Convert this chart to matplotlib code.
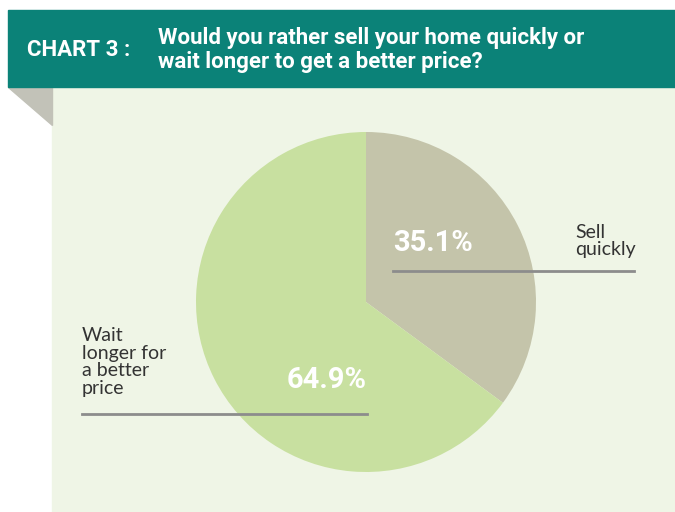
import matplotlib
matplotlib.use("Agg")
import matplotlib.pyplot as plt
from matplotlib.patches import Rectangle, Polygon

# data
labels = ["Sell\nquickly", "Wait\nlonger for\na better\nprice"]
values = [35.1, 64.9]
pct_labels = ["35.1%", "64.9%"]
colors = ["#c4c4aa", "#c8e0a0"]
chart_tag = "CHART 3 :"
question = "Would you rather sell your home quickly or\nwait longer to get a better price?"

W, H = 675, 512
fig = plt.figure(figsize=(W / 100, H / 100), dpi=100)
ax = fig.add_axes([0, 0, 1, 1])

def py(y):
    # pixel y (top-down) -> data y
    return H - y

# background panels
ax.add_patch(Rectangle((52, 0), W - 52, py(87), color="#eff5e6", zorder=0))
ax.add_patch(Polygon([(8, py(87)), (52, py(87)), (52, py(125))], color="#c2c2b8", zorder=0))
ax.add_patch(Rectangle((8, py(87)), W - 8, 77, color="#0b8278", zorder=1))

bold = ["Roboto", "DejaVu Sans"]
ax.text(27, py(50), chart_tag, color="white", fontsize=16, fontweight="bold",
        family=bold, va="center", ha="left")
ax.text(158, py(50), question, color="white", fontsize=16, fontweight="bold",
        family=bold, va="center", ha="left", linespacing=1.15)

# pie
ax.pie(values, colors=colors, startangle=90, counterclock=False,
       center=(366, py(302)), radius=170, frame=True,
       wedgeprops=dict(linewidth=0))
ax.set_xlim(0, W)
ax.set_ylim(0, H)
ax.set_aspect("equal")
ax.axis("off")

# leader lines
line_col = "#8c8c8c"
ax.plot([393, 634], [py(271), py(271)], color=line_col, lw=2, zorder=5)
ax.plot([82, 367], [py(414), py(414)], color=line_col, lw=2, zorder=5)

# percentages
ax.text(393, py(243), pct_labels[0], color="white", fontsize=21, fontweight="bold",
        family=bold, va="center", ha="left", zorder=6)
ax.text(367, py(380), pct_labels[1], color="white", fontsize=21, fontweight="bold",
        family=bold, va="center", ha="right", zorder=6)

# category labels
reg = ["Lato", "DejaVu Sans"]
ax.text(575, py(241), labels[0], color="#333333", fontsize=14, family=reg,
        va="center", ha="left", linespacing=1.05)
ax.text(82, py(362), labels[1], color="#333333", fontsize=14, family=reg,
        va="center", ha="left", linespacing=1.05)

fig.savefig("out.png", dpi=100, facecolor="white")
